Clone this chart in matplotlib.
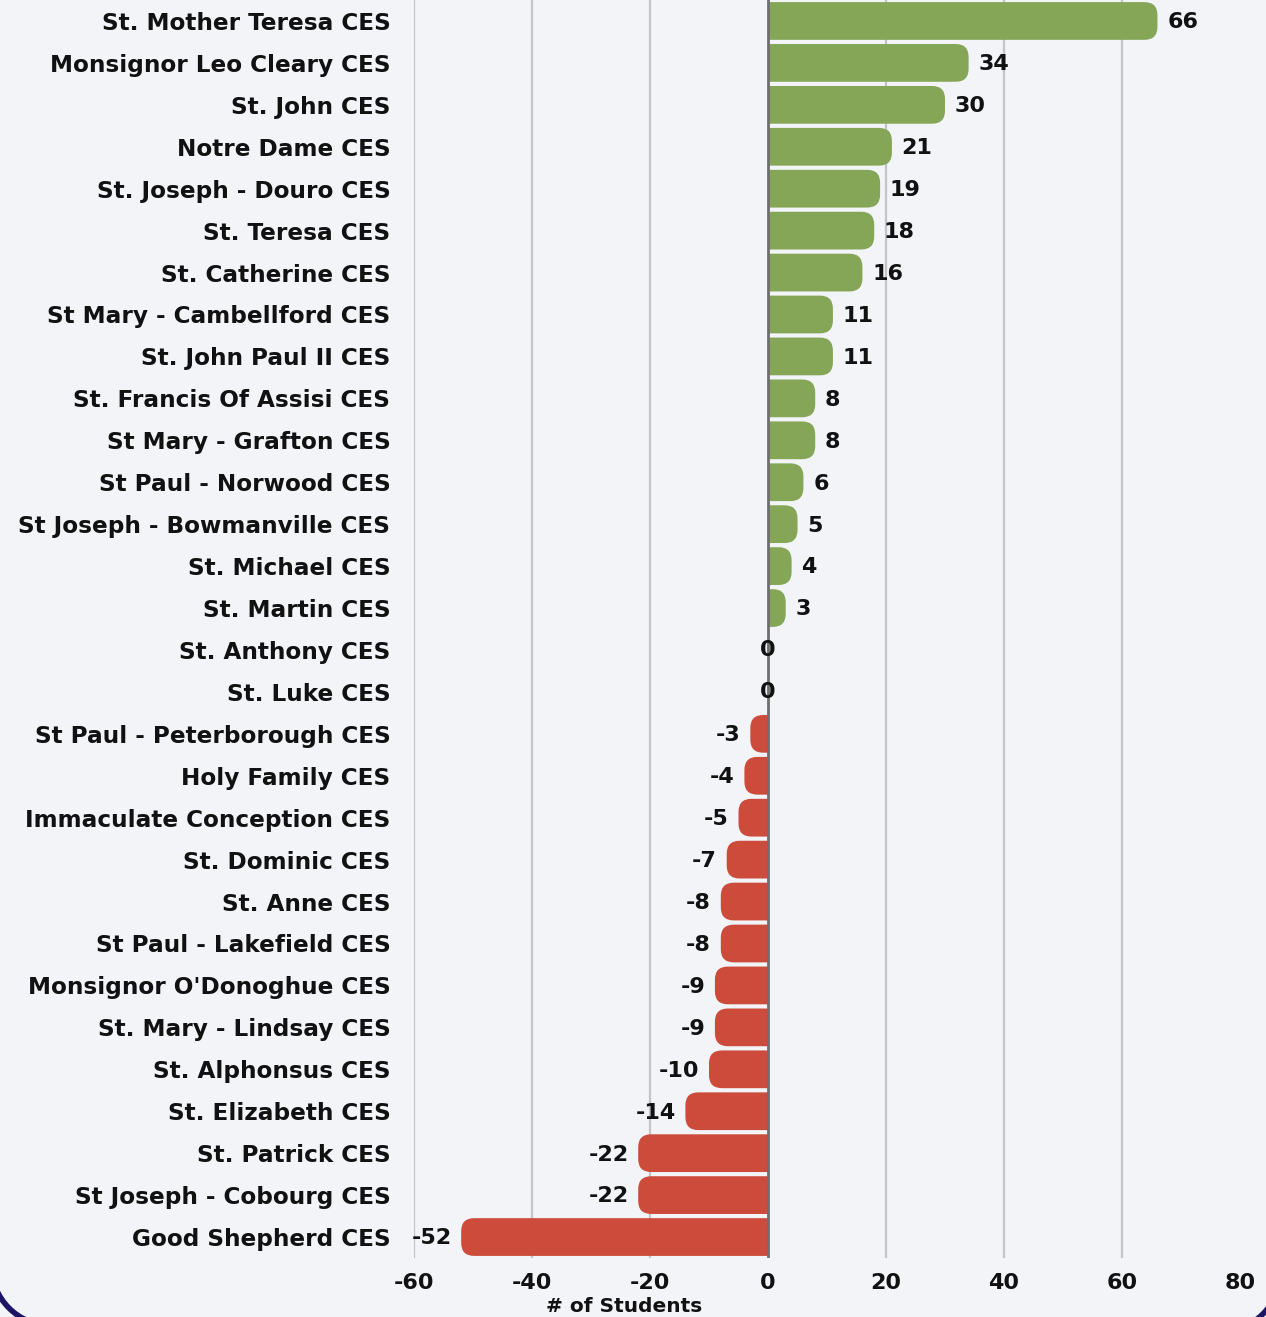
import matplotlib
matplotlib.use("Agg")
import matplotlib.pyplot as plt
from matplotlib.path import Path
from matplotlib.patches import PathPatch, Arc

schools = [
    "St. Mother Teresa CES", "Monsignor Leo Cleary CES", "St. John CES", "Notre Dame CES",
    "St. Joseph - Douro CES", "St. Teresa CES", "St. Catherine CES", "St Mary - Cambellford CES",
    "St. John Paul II CES", "St. Francis Of Assisi CES", "St Mary - Grafton CES",
    "St Paul - Norwood CES", "St Joseph - Bowmanville CES", "St. Michael CES", "St. Martin CES",
    "St. Anthony CES", "St. Luke CES", "St Paul - Peterborough CES", "Holy Family CES",
    "Immaculate Conception CES", "St. Dominic CES", "St. Anne CES", "St Paul - Lakefield CES",
    "Monsignor O'Donoghue CES", "St. Mary - Lindsay CES", "St. Alphonsus CES",
    "St. Elizabeth CES", "St. Patrick CES", "St Joseph - Cobourg CES", "Good Shepherd CES",
]
change = [66, 34, 30, 21, 19, 18, 16, 11, 11, 8, 8, 6, 5, 4, 3, 0, 0,
          -3, -4, -5, -7, -8, -8, -9, -9, -10, -14, -22, -22, -52]
xticks = [-60, -40, -20, 0, 20, 40, 60, 80]
xlabel = "# of Students"

BG = "#f3f4f8"
GREEN = "#84a656"
RED = "#cc4b3a"
W, H, DPI = 12.66, 13.17, 100

fig = plt.figure(figsize=(W, H), dpi=DPI, facecolor=BG)
ax_l, ax_b, ax_w, ax_h = 0.327, 0.0448, 0.6525, 0.9552
ax = fig.add_axes([ax_l, ax_b, ax_w, ax_h], facecolor=BG)

n = len(schools)
xmin, xmax = -60, 80
ax.set_xlim(xmin, xmax)
ax.set_ylim(n - 0.5, -0.5)

px_x = ax_w * W * DPI / (xmax - xmin)
px_y = ax_h * H * DPI / n
bar_h = 0.9
r_px = 13

for i, v in enumerate(change):
    if v == 0:
        continue
    s = 1 if v > 0 else -1
    rx = min(r_px / px_x, abs(v))
    ry = min(r_px / px_y, bar_h / 2)
    y0, y1 = i - bar_h / 2, i + bar_h / 2
    verts = [(0, y0), (v - s * rx, y0), (v, y0), (v, y0 + ry),
             (v, y1 - ry), (v, y1), (v - s * rx, y1), (0, y1), (0, y0)]
    codes = [Path.MOVETO, Path.LINETO, Path.CURVE3, Path.CURVE3,
             Path.LINETO, Path.CURVE3, Path.CURVE3, Path.LINETO, Path.CLOSEPOLY]
    ax.add_patch(PathPatch(Path(verts, codes), facecolor=GREEN if v > 0 else RED,
                           edgecolor="none", zorder=3))

FAM = ["DejaVu Sans"]
lab_font = dict(family=FAM, fontweight="bold", fontsize=16, color="#111111")
for i, v in enumerate(change):
    if v > 0:
        ax.annotate(str(v), (v, i), xytext=(7, -1), textcoords="offset points",
                    ha="left", va="center", zorder=5, **lab_font)
    elif v < 0:
        ax.annotate(str(v), (v, i), xytext=(-7, -1), textcoords="offset points",
                    ha="right", va="center", zorder=5, **lab_font)
    else:
        ax.annotate(str(v), (v, i), xytext=(0, 0), textcoords="offset points",
                    ha="center", va="center", zorder=5, **lab_font)

for t in xticks:
    if t == 0:
        ax.axvline(t, color="#6e6e6e", lw=2.0, zorder=4)
    elif t != xmax:
        ax.axvline(t, color="#c4c4c8", lw=1.6, zorder=1)

ax.set_yticks(range(n))
ax.set_yticklabels(schools)
for lbl in ax.get_yticklabels():
    lbl.set_fontfamily(FAM)
    lbl.set_fontweight("bold")
    lbl.set_fontsize(16.7)
    lbl.set_color("#111111")
ax.tick_params(axis="y", length=0, pad=17)

ax.set_xticks(xticks)
ax.set_xticklabels([str(t) for t in xticks])
for lbl in ax.get_xticklabels():
    lbl.set_fontfamily(["DejaVu Sans"])
    lbl.set_fontweight("bold")
    lbl.set_fontsize(16)
    lbl.set_color("#111111")
ax.tick_params(axis="x", length=0, pad=11)
ax.set_xlabel("")
fig.text(624 / (W * DPI), 1 - 1306 / (H * DPI), xlabel, fontsize=14.5, fontweight="bold",
         family=["DejaVu Sans"], color="#111111", ha="center", va="center")

for sp in ax.spines.values():
    sp.set_visible(False)

# dark rounded frame corners peeking in at the bottom of the canvas
R = 0.60
dl, dr = 0.086, 0.145
fig.patches.append(Arc((R - dl, R - dl), 2 * R, 2 * R, theta1=180, theta2=270,
                       transform=fig.dpi_scale_trans, color="#1e1466", lw=4, clip_on=False))
fig.patches.append(Arc((W + dr - R, R - dr), 2 * R, 2 * R, theta1=270, theta2=360,
                       transform=fig.dpi_scale_trans, color="#1e1466", lw=4, clip_on=False))

fig.savefig("out.png", dpi=DPI, facecolor=BG)
